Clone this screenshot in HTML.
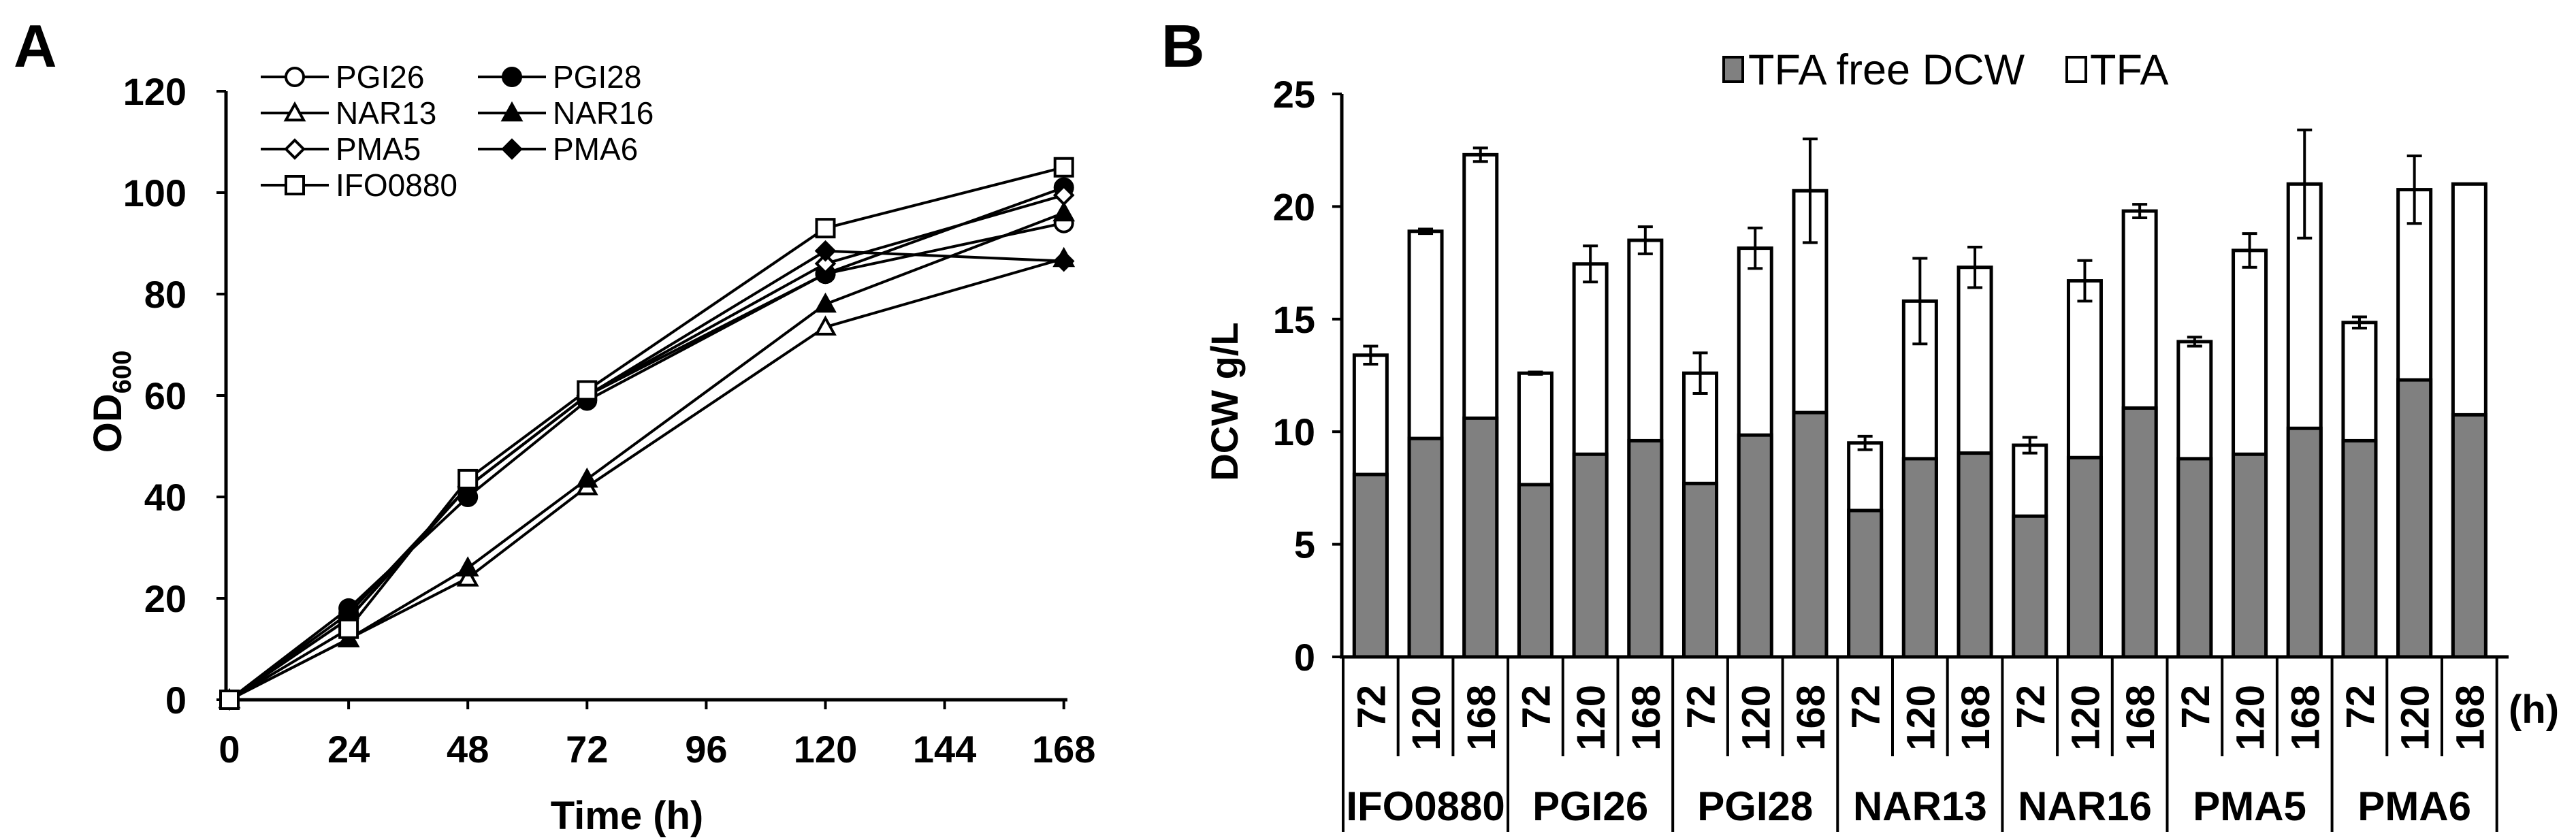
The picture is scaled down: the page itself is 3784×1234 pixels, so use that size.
<!DOCTYPE html>
<html><head><meta charset="utf-8"><style>
html,body{margin:0;padding:0;background:#fff;}
svg{display:block;font-family:"Liberation Sans",Arial,sans-serif;}
</style></head><body>
<svg id="fig" width="3784" height="1234" viewBox="0 0 3784 1234" xmlns="http://www.w3.org/2000/svg">
<text x="20" y="98" font-size="88" font-weight="bold">A</text>
<text x="1706" y="98" font-size="88" font-weight="bold">B</text>
<g id="pa"></g>
<g id="pb"></g>
</svg>
<script>
// Panel A data
const timesA = [0, 24, 48, 72, 120, 168];
const xTicksA = [0, 24, 48, 72, 96, 120, 144, 168];
const yTicksA = [0, 20, 40, 60, 80, 100, 120];
const strainsA = ["PGI26","PGI28","NAR13","NAR16","PMA5","PMA6","IFO0880"];
const odPGI26 = [0, 17, 42, 60, 84, 94];
const odPGI28 = [0, 18, 40, 59, 84, 101];
const odNAR13 = [0, 12, 24, 42, 73.5, 87];
const odNAR16 = [0, 12, 26, 43.5, 78, 96];
const odPMA5 = [0, 16, 42, 60, 86, 99.5];
const odPMA6 = [0, 16, 42, 60, 88.5, 86.5];
const odIFO0880 = [0, 14, 43.5, 61, 93, 105];

// Panel B data
const groupsB = ["IFO0880","PGI26","PGI28","NAR13","NAR16","PMA5","PMA6"];
const hoursB = ["72","120","168"];
const yTicksB = [0, 5, 10, 15, 20, 25];
const totalB = [13.4,18.9,22.3, 12.6,17.45,18.5, 12.6,18.15,20.7, 9.5,15.8,17.3, 9.4,16.7,19.8, 14.0,18.05,21.0, 14.85,20.75,21.0];
const freeB = [8.1,9.7,10.6, 7.65,9.0,9.6, 7.7,9.85,10.85, 6.5,8.8,9.05, 6.25,8.85,11.05, 8.8,9.0,10.15, 9.6,12.3,10.75];
const errB = [0.4,0.1,0.3, 0.05,0.8,0.6, 0.9,0.9,2.3, 0.3,1.9,0.9, 0.35,0.9,0.3, 0.2,0.75,2.4, 0.25,1.5,0];

const NS = "http://www.w3.org/2000/svg";
function mk(parent, tag, attrs, text){
  const e = document.createElementNS(NS, tag);
  for (const k in attrs) e.setAttribute(k, attrs[k]);
  if (text !== undefined) e.textContent = text;
  parent.appendChild(e); return e;
}

// ---------- Panel A ----------
const pa = document.getElementById('pa');
const xA = t => 337 + (t / 24) * 175.1;
const yA = v => 1028 - (v / 20) * 149;
let e;
e = mk(pa,'line',{x1:332,y1:134,x2:332,y2:1028,stroke:'#000','stroke-width':5});
 
e = mk(pa,'line',{x1:330,y1:1028,x2:1568,y2:1028,stroke:'#000','stroke-width':5});
 
yTicksA.forEach(v=>{
  mk(pa,'line',{x1:318,y1:yA(v),x2:332,y2:yA(v),stroke:'#000','stroke-width':4});
  e = mk(pa,'text',{x:274,y:yA(v)+20,'font-size':56,'font-weight':'bold','text-anchor':'end'},String(v));
   
});
xTicksA.forEach(t=>{
  mk(pa,'line',{x1:xA(t),y1:1028,x2:xA(t),y2:1042,stroke:'#000','stroke-width':4});
  e = mk(pa,'text',{x:xA(t),y:1120,'font-size':56,'font-weight':'bold','text-anchor':'middle'},String(t));
   
});
e = mk(pa,'text',{x:921,y:1218,'font-size':58,'font-weight':'bold','text-anchor':'middle'},'Time (h)');
 
e = mk(pa,'text',{x:0,y:0,'font-size':58,'font-weight':'bold','text-anchor':'middle',transform:'translate(178,590) rotate(-90)'});
 
e.innerHTML = 'OD<tspan font-size="38" dy="14">600</tspan>';

function marker(g, type, cx, cy){
  const s = 13;
  const fill = /f/.test(type) ? '#000' : '#fff';
  const base = {fill:fill, stroke:'#000','stroke-width':4};
  if (type.startsWith('circ')) return mk(g,'circle',Object.assign({cx:cx,cy:cy,r:s},base));
  if (type.startsWith('tri')) return mk(g,'polygon',Object.assign({points:`${cx},${cy-s} ${cx+s},${cy+s*0.8} ${cx-s},${cy+s*0.8}`},base));
  if (type.startsWith('dia')) return mk(g,'polygon',Object.assign({points:`${cx},${cy-s} ${cx+s},${cy} ${cx},${cy+s} ${cx-s},${cy}`},base));
  return mk(g,'rect',Object.assign({x:cx-s,y:cy-s,width:2*s,height:2*s},base));
}
const seriesA = [
  {name:'PGI26', vals:odPGI26, m:'circ'},
  {name:'PGI28', vals:odPGI28, m:'circf'},
  {name:'NAR13', vals:odNAR13, m:'tri'},
  {name:'NAR16', vals:odNAR16, m:'trif'},
  {name:'PMA5', vals:odPMA5, m:'dia'},
  {name:'PMA6', vals:odPMA6, m:'diaf'},
  {name:'IFO0880', vals:odIFO0880, m:'sq'}
];
seriesA.forEach(s=>{
  const g = mk(pa,'g',{});
  
  
  mk(g,'polyline',{points:s.vals.map((v,i)=>xA(timesA[i])+','+yA(v)).join(' '),fill:'none',stroke:'#000','stroke-width':4});
  s.vals.forEach((v,i)=>{
    const p = marker(g, s.m, xA(timesA[i]), yA(v));
    
    
  });
});
// legend A
const legA = mk(pa,'g',{});
 
const legPos = [[0,0],[1,0],[0,1],[1,1],[0,2],[1,2],[0,3]];
seriesA.forEach((s,i)=>{
  const [c,r] = legPos[i];
  const x0 = c ? 702 : 383, y0 = 113 + r*53;
  const g = mk(legA,'g',{});
   
  mk(g,'line',{x1:x0,y1:y0,x2:x0+100,y2:y0,stroke:'#000','stroke-width':4});
  marker(g, s.m, x0+50, y0);
  mk(g,'text',{x:x0+110,y:y0+16,'font-size':46},s.name);
});

// ---------- Panel B ----------
const pb = document.getElementById('pb');
const x0B = 1973, slot = 80.7;
const yB = v => 965 - (v / 5) * 165.4;
e = mk(pb,'line',{x1:1971,y1:138,x2:1971,y2:965,stroke:'#000','stroke-width':5});
 
yTicksB.forEach(v=>{
  mk(pb,'line',{x1:1957,y1:yB(v),x2:1971,y2:yB(v),stroke:'#000','stroke-width':4});
  e = mk(pb,'text',{x:1932,y:yB(v)+20,'font-size':56,'font-weight':'bold','text-anchor':'end'},String(v));
   
});
e = mk(pb,'text',{x:0,y:0,'font-size':56,'font-weight':'bold','text-anchor':'middle',transform:'translate(1818,590) rotate(-90)'},'DCW g/L');
 
const nBars = groupsB.length * hoursB.length;
for (let i=0;i<nBars;i++){
  const cx = x0B + slot*(i+0.5), w = 48;
  const g = mk(pb,'g',{});
  
  
  mk(g,'rect',{x:cx-w/2,y:yB(totalB[i]),width:w,height:yB(0)-yB(totalB[i]),fill:'#fff',stroke:'#000','stroke-width':5});
  mk(g,'rect',{x:cx-w/2,y:yB(freeB[i]),width:w,height:yB(0)-yB(freeB[i]),fill:'#808080',stroke:'#000','stroke-width':5});
  if (errB[i] > 0){
    const eg = mk(g,'g',{stroke:'#000','stroke-width':4});
     
    const t = yB(totalB[i]+errB[i]), b = yB(totalB[i]-errB[i]);
    mk(eg,'line',{x1:cx,y1:t,x2:cx,y2:b});
    mk(eg,'line',{x1:cx-11,y1:t,x2:cx+11,y2:t});
    mk(eg,'line',{x1:cx-11,y1:b,x2:cx+11,y2:b});
  }
  e = mk(pb,'text',{x:0,y:0,'font-size':58,'font-weight':'bold','text-anchor':'end',transform:`translate(${cx+21},${1006}) rotate(-90)`},hoursB[i%3]);
   
}
e = mk(pb,'line',{x1:1968,y1:965,x2:3685,y2:965,stroke:'#000','stroke-width':5});
 
for (let i=0;i<=nBars;i++){
  const x = x0B + slot*i;
  const full = (i%3===0);
  mk(pb,'line',{x1:x,y1:965,x2:x,y2:full?1222:1111,stroke:'#000','stroke-width':4});
}
groupsB.forEach((gname,gi)=>{
  e = mk(pb,'text',{x:x0B+slot*(gi*3+1.5),y:1205,'font-size':60,'font-weight':'bold','text-anchor':'middle'},gname);
   
});
e = mk(pb,'text',{x:3722,y:1062,'font-size':58,'font-weight':'bold','text-anchor':'middle'},'(h)');
 
// legend B
const legB = mk(pb,'g',{});
 
let le = mk(legB,'g',{});
 
mk(le,'rect',{x:2532,y:84,width:28,height:36,fill:'#808080',stroke:'#000','stroke-width':4});
mk(le,'text',{x:2568,y:124,'font-size':63},'TFA free DCW');
le = mk(legB,'g',{});
 
mk(le,'rect',{x:3036,y:84,width:28,height:36,fill:'#fff',stroke:'#000','stroke-width':4});
mk(le,'text',{x:3070,y:124,'font-size':63},'TFA');
</script>
</body></html>
